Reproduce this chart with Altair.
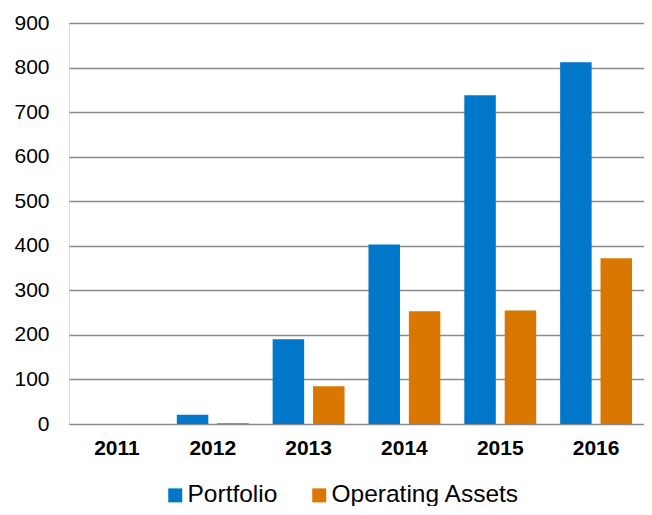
import altair as alt
import pandas as pd

years = ["2011", "2012", "2013", "2014", "2015", "2016"]
portfolio = [0, 21, 190, 403, 738, 812]
operating_assets = [0, 2, 85, 253, 255, 372]
series = ["Portfolio", "Operating Assets"]
colors = ["#0077C8", "#D97700"]

rows = []
for i, y in enumerate(years):
    rows.append({"year": y, "series": series[0], "value": portfolio[i]})
    rows.append({"year": y, "series": series[1], "value": operating_assets[i]})
df = pd.DataFrame(rows)

font = "Liberation Sans"

chart = (
    alt.Chart(df)
    .mark_bar()
    .encode(
        x=alt.X(
            "year:N",
            sort=years,
            title=None,
            scale=alt.Scale(paddingInner=0.25, paddingOuter=0.125),
            axis=alt.Axis(
                labelAngle=0,
                labelFont=font,
                labelFontSize=21,
                labelFontWeight="bold",
                labelColor="#000000",
                labelPadding=13,
                ticks=False,
                domain=False,
                grid=False,
            ),
        ),
        xOffset=alt.XOffset(
            "series:N",
            sort=series,
            scale=alt.Scale(domain=series, paddingInner=0.22, paddingOuter=0),
        ),
        y=alt.Y(
            "value:Q",
            title=None,
            scale=alt.Scale(domain=[0, 900], nice=False),
            axis=alt.Axis(
                values=[0, 100, 200, 300, 400, 500, 600, 700, 800, 900],
                labelFont=font,
                labelFontSize=21,
                labelColor="#000000",
                labelPadding=20,
                ticks=False,
                domain=False,
                grid=True,
                gridColor="#8a8a8a",
                gridWidth=1.6,
            ),
        ),
        color=alt.Color(
            "series:N",
            sort=series,
            scale=alt.Scale(domain=series, range=colors),
            legend=alt.Legend(
                title=None,
                orient="none",
                direction="horizontal",
                columns=2,
                legendX=94,
                legendY=460,
                padding=0,
                symbolType="square",
                symbolSize=196,
                symbolStrokeWidth=0,
                labelFont=font,
                labelFontSize=24.5,
                labelColor="#000000",
                labelOffset=0,
                columnPadding=29,
                labelLimit=400,
            ),
        ),
    )
    .properties(
        width=575,
        height=401,
        autosize=alt.AutoSizeParams(type="none"),
        padding={"left": 61, "top": 15, "right": 0, "bottom": 82},
    )
    .configure_view(stroke=None)
    .configure(background="#ffffff")
)

chart.save("out.html", embed_options={"renderer": "svg", "actions": False})
